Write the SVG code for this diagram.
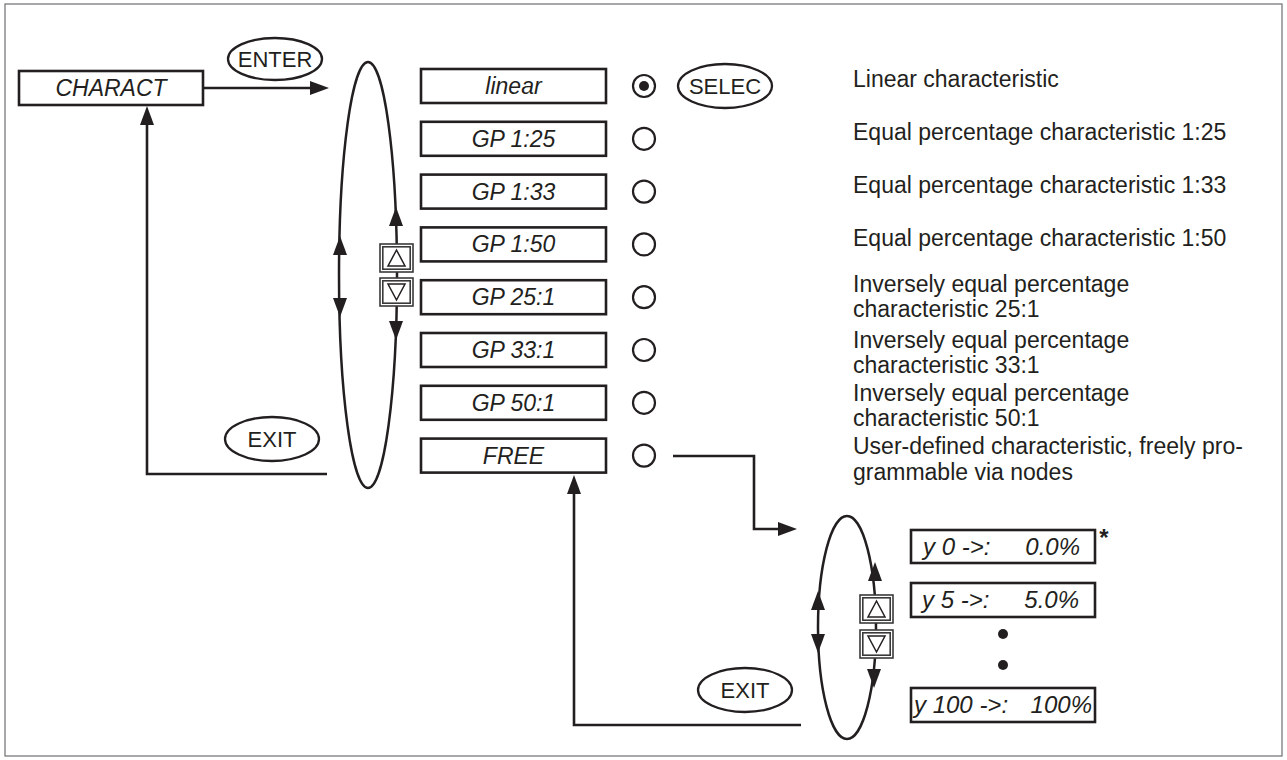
<svg xmlns="http://www.w3.org/2000/svg" width="1287" height="760" viewBox="0 0 1287 760">
<style>
  .frame { fill: #fff; stroke: #6d6e70; stroke-width: 1.2; }
  .box { fill: #fff; stroke: #231f20; stroke-width: 2.6; }
  .lbl { font-family: "Liberation Sans", Arial, sans-serif; font-style: italic; font-size: 23px; text-anchor: middle; fill: #231f20; }
  .lbll { font-family: "Liberation Sans", Arial, sans-serif; font-style: italic; font-size: 24px; fill: #231f20; }
  .btn { font-family: "Liberation Sans", Arial, sans-serif; font-size: 22px; text-anchor: middle; fill: #231f20; }
  .desc { font-family: "Liberation Sans", Arial, sans-serif; font-size: 23px; fill: #231f20; }
  .oval { fill: #fff; stroke: #231f20; stroke-width: 2.3; }
  .radio { fill: #fff; stroke: #231f20; stroke-width: 2.2; }
  .line { fill: none; stroke: #231f20; stroke-width: 2.6; }
  .loop { fill: none; stroke: #231f20; stroke-width: 2.5; }
  .key { fill: #fff; stroke: #3a3a3a; stroke-width: 1.6; }
  .keyin { fill: none; stroke: #3a3a3a; stroke-width: 1.6; }
  .tri { fill: #fff; stroke: #231f20; stroke-width: 1.5; }
  .ah { fill: #231f20; }
</style>
<defs>
  <path id="ah" d="M0,0 L-7,19 L7,19 Z"/>
  <g id="keyup">
    <rect class="key" x="0" y="0" width="33" height="28"/>
    <rect class="keyin" x="2.8" y="2.8" width="27.4" height="22.4"/>
    <polygon class="tri" points="16.5,6 8,22 25,22"/>
  </g>
  <g id="keydown">
    <rect class="key" x="0" y="0" width="33" height="28"/>
    <rect class="keyin" x="2.8" y="2.8" width="27.4" height="22.4"/>
    <polygon class="tri" points="8,6 25,6 16.5,22"/>
  </g>
</defs>

<rect class="frame" x="5" y="4" width="1277" height="752"/>

<g id="connectors">
  <line class="line" x1="203" y1="88" x2="312" y2="88"/>
  <use href="#ah" class="ah" transform="translate(329,88) rotate(90)"/>
  <polyline class="line" points="327,474 147,474 147,122"/>
  <use href="#ah" class="ah" transform="translate(147,106)"/>
  <polyline class="line" points="673,456 754,456 754,529 780,529"/>
  <use href="#ah" class="ah" transform="translate(797,529) rotate(90)"/>
  <polyline class="line" points="801,725 574,725 574,491"/>
  <use href="#ah" class="ah" transform="translate(574,475)"/>
  <!-- main selection loop -->
  <ellipse class="loop" cx="368" cy="275" rx="29" ry="213"/>
  <use href="#ah" class="ah" transform="translate(396,207)"/>
  <use href="#ah" class="ah" transform="translate(340,236)"/>
  <use href="#ah" class="ah" transform="translate(340,317) rotate(180)"/>
  <use href="#ah" class="ah" transform="translate(396,340) rotate(180)"/>
  <!-- node loop -->
  <ellipse class="loop" cx="847" cy="627.5" rx="29" ry="111.5"/>
  <use href="#ah" class="ah" transform="translate(875,562)"/>
  <use href="#ah" class="ah" transform="translate(818,591)"/>
  <use href="#ah" class="ah" transform="translate(818,653) rotate(180)"/>
  <use href="#ah" class="ah" transform="translate(874,688) rotate(180)"/>
</g>

<g id="keys-main">
  <use href="#keyup" transform="translate(380,244)"/>
  <use href="#keydown" transform="translate(380,278)"/>
</g>
<g id="keys-nodes">
  <use href="#keyup" transform="translate(860,595)"/>
  <use href="#keydown" transform="translate(860,630)"/>
</g>

<g id="charact">
  <rect class="box" x="19" y="71" width="184" height="34"/>
  <text class="lbl" x="111" y="96">CHARACT</text>
</g>
<g id="enter">
  <ellipse class="oval" cx="275" cy="59" rx="47" ry="21"/>
  <text class="btn" x="275" y="67">ENTER</text>
</g>
<g id="exit-main">
  <ellipse class="oval" cx="272" cy="439" rx="47" ry="22"/>
  <text class="btn" x="272" y="447">EXIT</text>
</g>
<g id="selec">
  <ellipse class="oval" cx="725" cy="86" rx="47" ry="22"/>
  <text class="btn" x="725" y="94">SELEC</text>
</g>
<g id="exit-nodes">
  <ellipse class="oval" cx="745" cy="690" rx="47" ry="22"/>
  <text class="btn" x="745" y="698">EXIT</text>
</g>

<g id="opt-linear">
  <rect class="box" x="421" y="69" width="185" height="34"/>
  <text class="lbl" x="513.5" y="94">linear</text>
  <circle class="radio" cx="644" cy="86" r="11"/>
  <circle cx="644" cy="86" r="5" fill="#231f20"/>
  <text class="desc" x="853" y="87">Linear characteristic</text>
</g>
<g id="opt-gp125">
  <rect class="box" x="421" y="121.8" width="185" height="34"/>
  <text class="lbl" x="513.5" y="146.8">GP 1:25</text>
  <circle class="radio" cx="644" cy="138.8" r="11"/>
  <text class="desc" x="853" y="140">Equal percentage characteristic 1:25</text>
</g>
<g id="opt-gp133">
  <rect class="box" x="421" y="174.6" width="185" height="34"/>
  <text class="lbl" x="513.5" y="199.6">GP 1:33</text>
  <circle class="radio" cx="644" cy="191.6" r="11"/>
  <text class="desc" x="853" y="193">Equal percentage characteristic 1:33</text>
</g>
<g id="opt-gp150">
  <rect class="box" x="421" y="227.4" width="185" height="34"/>
  <text class="lbl" x="513.5" y="252.4">GP 1:50</text>
  <circle class="radio" cx="644" cy="244.4" r="11"/>
  <text class="desc" x="853" y="246">Equal percentage characteristic 1:50</text>
</g>
<g id="opt-gp251">
  <rect class="box" x="421" y="280.2" width="185" height="34"/>
  <text class="lbl" x="513.5" y="305.2">GP 25:1</text>
  <circle class="radio" cx="644" cy="297.2" r="11"/>
  <text class="desc" x="853" y="292">Inversely equal percentage</text>
  <text class="desc" x="853" y="317">characteristic 25:1</text>
</g>
<g id="opt-gp331">
  <rect class="box" x="421" y="333" width="185" height="34"/>
  <text class="lbl" x="513.5" y="358">GP 33:1</text>
  <circle class="radio" cx="644" cy="350" r="11"/>
  <text class="desc" x="853" y="348">Inversely equal percentage</text>
  <text class="desc" x="853" y="373">characteristic 33:1</text>
</g>
<g id="opt-gp501">
  <rect class="box" x="421" y="385.8" width="185" height="34"/>
  <text class="lbl" x="513.5" y="410.8">GP 50:1</text>
  <circle class="radio" cx="644" cy="402.8" r="11"/>
  <text class="desc" x="853" y="401">Inversely equal percentage</text>
  <text class="desc" x="853" y="426">characteristic 50:1</text>
</g>
<g id="opt-free">
  <rect class="box" x="421" y="438.6" width="185" height="34"/>
  <text class="lbl" x="513.5" y="463.6">FREE</text>
  <circle class="radio" cx="644" cy="455.6" r="11"/>
  <text class="desc" x="853" y="454">User-defined characteristic, freely pro-</text>
  <text class="desc" x="853" y="480">grammable via nodes</text>
</g>

<g id="node-y0">
  <rect class="box" x="911" y="530" width="184" height="33"/>
  <text class="lbll" x="923" y="555">y 0 -&gt;:</text>
  <text class="lbll" x="1080" y="555" text-anchor="end">0.0%</text>
  <text x="1104" y="546" font-family="Liberation Sans, Arial, sans-serif" font-size="24" font-weight="bold" fill="#231f20" text-anchor="middle">*</text>
</g>
<g id="node-y5">
  <rect class="box" x="911" y="583" width="184" height="34"/>
  <text class="lbll" x="922" y="608">y 5 -&gt;:</text>
  <text class="lbll" x="1079" y="608" text-anchor="end">5.0%</text>
</g>
<g id="node-dots">
  <circle cx="1003" cy="634" r="5" fill="#231f20"/>
  <circle cx="1003" cy="665" r="5" fill="#231f20"/>
</g>
<g id="node-y100">
  <rect class="box" x="911" y="688" width="184" height="34"/>
  <text class="lbll" x="914" y="713">y 100 -&gt;:</text>
  <text class="lbll" x="1092" y="713" text-anchor="end">100%</text>
</g>
</svg>
